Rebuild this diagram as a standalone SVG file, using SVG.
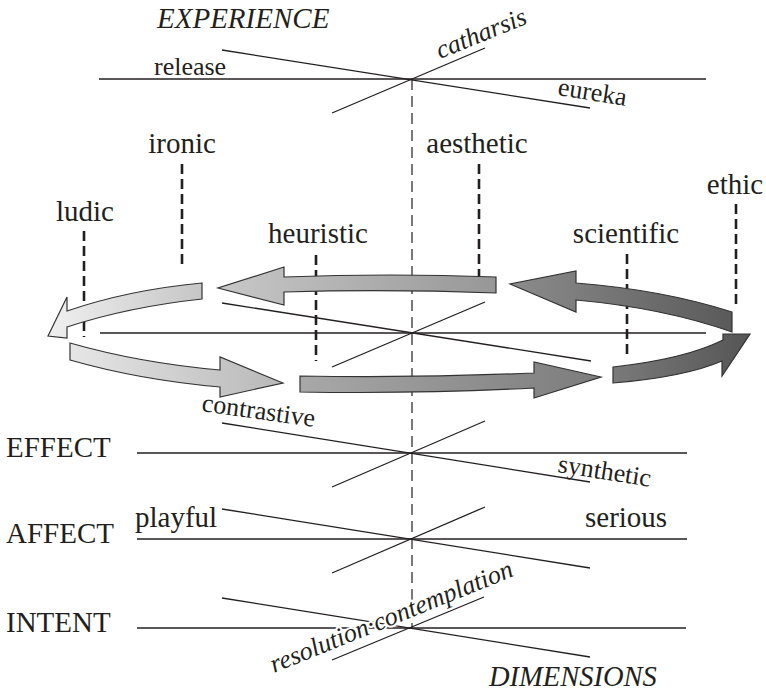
<svg xmlns="http://www.w3.org/2000/svg" width="766" height="691" viewBox="0 0 766 691">
  <style>
    text { font-family: "Liberation Serif", "Times New Roman", serif; fill: #231f20; }
    .lbl { font-size: 29px; }
    .sm { font-size: 26px; }
    .it { font-style: italic; }
    .mid { text-anchor: middle; }
    .halo { stroke: #ffffff; stroke-width: 4; paint-order: stroke; stroke-linejoin: round; }
    .axis { stroke: #231f20; stroke-width: 1.3; fill: none; }
    .spine { stroke: #231f20; stroke-width: 1.2; stroke-dasharray: 11 6; fill: none; }
    .tick { stroke: #231f20; stroke-width: 2.6; stroke-dasharray: 10 5; fill: none; }
    .arrow { stroke: #333; stroke-width: 1.2; stroke-linejoin: miter; }
  </style>
  <defs>
    <linearGradient id="g1" x1="0" y1="0" x2="1" y2="0">
      <stop offset="0" stop-color="#f0f0f0"/><stop offset="1" stop-color="#c6c6c6"/>
    </linearGradient>
    <linearGradient id="g2" x1="0" y1="0" x2="1" y2="0">
      <stop offset="0" stop-color="#c8c8c8"/><stop offset="1" stop-color="#979797"/>
    </linearGradient>
    <linearGradient id="g3" x1="0" y1="0" x2="1" y2="0">
      <stop offset="0" stop-color="#8c8c8c"/><stop offset="1" stop-color="#5a5a5a"/>
    </linearGradient>
    <linearGradient id="g4" x1="0" y1="0" x2="1" y2="0">
      <stop offset="0" stop-color="#7a7a7a"/><stop offset="1" stop-color="#555555"/>
    </linearGradient>
    <linearGradient id="g5" x1="0" y1="0" x2="1" y2="0">
      <stop offset="0" stop-color="#e6e6e6"/><stop offset="1" stop-color="#b8b8b8"/>
    </linearGradient>
    <linearGradient id="g6" x1="0" y1="0" x2="1" y2="0">
      <stop offset="0" stop-color="#a8a8a8"/><stop offset="1" stop-color="#7c7c7c"/>
    </linearGradient>
  </defs>

  <!-- connectors: the central spine, the four crossings and the label ticks -->
  <g id="connectors">
    <line class="spine" x1="412" y1="79" x2="412" y2="628"/>

    <!-- experience crossing -->
    <line class="axis" x1="99" y1="79" x2="706" y2="79"/>
    <line class="axis" x1="222" y1="50" x2="590" y2="108"/>
    <line class="axis" x1="332" y1="113" x2="485" y2="48"/>

    <!-- dimensions plane crossing -->
    <line class="axis" x1="100" y1="333" x2="706" y2="333"/>
    <line class="axis" x1="222" y1="303" x2="591" y2="361"/>
    <line class="axis" x1="332" y1="367" x2="485" y2="302"/>

    <!-- effect -->
    <line class="axis" x1="137" y1="453" x2="687" y2="453"/>
    <line class="axis" x1="222" y1="423" x2="590" y2="482"/>
    <line class="axis" x1="332" y1="487" x2="485" y2="421"/>

    <!-- affect -->
    <line class="axis" x1="137" y1="539" x2="687" y2="539"/>
    <line class="axis" x1="222" y1="509" x2="590" y2="568"/>
    <line class="axis" x1="332" y1="573" x2="485" y2="507"/>

    <!-- intent -->
    <line class="axis" x1="137" y1="628" x2="686" y2="628"/>
    <line class="axis" x1="222" y1="598" x2="590" y2="657"/>
    <line class="axis" x1="332" y1="660" x2="484" y2="597"/>

    <!-- label ticks -->
    <line class="tick" x1="182" y1="164" x2="182" y2="269"/>
    <line class="tick" x1="84" y1="231" x2="84" y2="337"/>
    <line class="tick" x1="316" y1="255" x2="316" y2="361"/>
    <line class="tick" x1="479" y1="164" x2="479" y2="280"/>
    <line class="tick" x1="627" y1="254" x2="627" y2="358"/>
    <line class="tick" x1="736" y1="204" x2="736" y2="309"/>
  </g>

  <!-- cycle arrows -->
  <g id="arrow-ludic">
    <path class="arrow" fill="url(#g1)" d="M202,283 Q128,290 67,311 L67,297 L48,336 L67,338 L67,327 Q128,307 202,299 Z"/>
  </g>
  <g id="arrow-ironic">
    <path class="arrow" fill="url(#g2)" d="M496,277 Q390,273 284,277 L284,267 L218,288 L284,305 L284,292 Q390,289 496,293 Z"/>
  </g>
  <g id="arrow-aesthetic">
    <path class="arrow" fill="url(#g3)" d="M576,283 Q664,290 732,312 L732,332 Q664,308 576,300 L576,312 L510,284 L576,271 Z"/>
  </g>
  <g id="arrow-ethic">
    <path class="arrow" fill="url(#g4)" d="M613,367 Q685,359 723,340 L723,334 L750,334 L722,376 L722,361 Q685,377 613,383 Z"/>
  </g>
  <g id="arrow-contrastive">
    <path class="arrow" fill="url(#g5)" d="M70,343 Q140,363 220,370 L220,357 L283,383 L220,397 L220,387 Q140,380 70,360 Z"/>
  </g>
  <g id="arrow-scientific">
    <path class="arrow" fill="url(#g6)" d="M300,376 Q420,378 534,373 L534,362 L601,377 L534,398 L534,388 Q420,394 300,392 Z"/>
  </g>

  <!-- titles -->
  <g id="experience">
    <text class="it" x="157" y="28" font-size="29">EXPERIENCE</text>
    <text class="sm" x="154" y="75">release</text>
    <text class="sm it" transform="translate(440,59) rotate(-22)">catharsis</text>
    <text class="sm" transform="translate(557,95) rotate(9)">eureka</text>
  </g>

  <g id="labels">
    <text class="lbl mid" x="182" y="153">ironic</text>
    <text class="lbl mid" x="85" y="221">ludic</text>
    <text class="lbl mid" x="318" y="243">heuristic</text>
    <text class="lbl mid" x="477" y="153">aesthetic</text>
    <text class="lbl mid" x="626" y="243">scientific</text>
    <text class="lbl mid" x="735" y="194">ethic</text>
  </g>

  <g id="effect">
    <text class="lbl" x="6" y="457">EFFECT</text>
    <text class="sm" transform="translate(201,411) rotate(8)">contrastive</text>
    <text class="sm" transform="translate(557,472) rotate(9)">synthetic</text>
  </g>

  <g id="affect">
    <text class="lbl" x="6" y="543">AFFECT</text>
    <text class="lbl" x="135" y="527" font-size="30">playful</text>
    <text class="lbl" x="585" y="527" font-size="30">serious</text>
  </g>

  <g id="intent">
    <text class="lbl" x="6" y="632">INTENT</text>
    <text class="sm it halo" transform="translate(274,673) rotate(-22)">resolution·contemplation</text>
  </g>

  <g id="dimensions">
    <text class="it" x="489" y="686" font-size="28.5">DIMENSIONS</text>
  </g>
</svg>
